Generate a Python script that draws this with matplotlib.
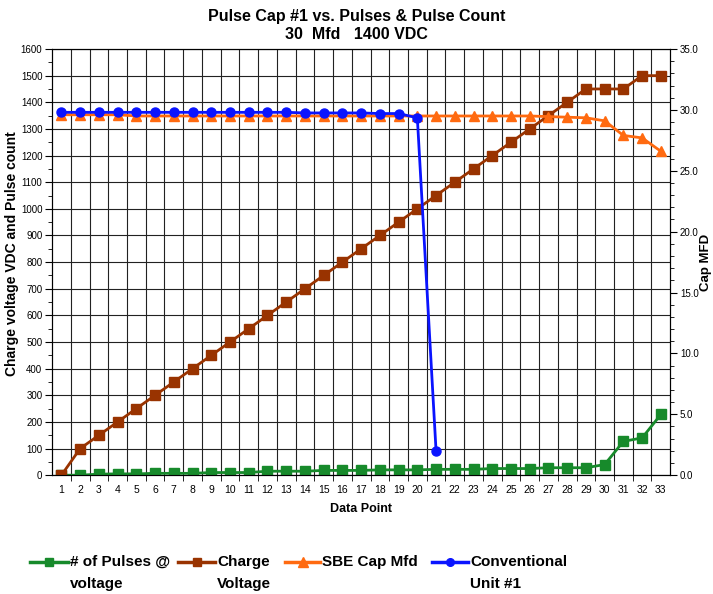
import matplotlib.pyplot as plt
from matplotlib.ticker import MultipleLocator, FormatStrFormatter
from matplotlib.lines import Line2D

plt.rcParams['font.family'] = ['Liberation Sans', 'DejaVu Sans']

points = list(range(1, 34))

# pulse count at each charge step (left axis)
pulses = [0, 0, 4, 5, 5, 7, 7, 7, 10, 10, 10, 15, 15, 15, 18, 18, 18, 20, 20, 20,
          22, 22, 22, 25, 25, 25, 28, 28, 28, 40, 127, 140, 228]
# charge voltage VDC (left axis)
charge_v = [0, 100, 150, 200, 250, 300, 350, 400, 450, 500, 550, 600, 650, 700, 750,
            800, 850, 900, 950, 1000, 1050, 1100, 1150, 1200, 1250, 1300, 1350, 1400,
            1450, 1450, 1450, 1500, 1500]
# capacitance in Mfd (right axis)
sbe_cap = [29.6, 29.6, 29.6, 29.6, 29.5, 29.5, 29.5, 29.5, 29.5, 29.5, 29.5, 29.5,
           29.5, 29.5, 29.5, 29.5, 29.5, 29.5, 29.5, 29.5, 29.5, 29.5, 29.5, 29.5,
           29.5, 29.5, 29.45, 29.4, 29.35, 29.1, 27.9, 27.7, 26.6]
conv_points = list(range(1, 22))
conv_cap = [29.8, 29.8, 29.8, 29.8, 29.8, 29.8, 29.8, 29.8, 29.8, 29.8, 29.8, 29.8,
            29.8, 29.75, 29.75, 29.75, 29.75, 29.7, 29.7, 29.35, 2.0]

GREEN = '#178a2b'
BROWN = '#993300'
ORANGE = '#ff6a10'
BLUE = '#0a14ff'

W, H = 713, 594
fig = plt.figure(figsize=(W / 100, H / 100), dpi=100)
ax = fig.add_axes([0.073, 0.2, 0.867, 0.7175])
ax2 = ax.twinx()

ax.plot(points, pulses, color=GREEN, lw=2, marker='s', ms=6.5, zorder=3)
ax.plot(points, charge_v, color=BROWN, lw=2, marker='s', ms=6.5, zorder=3)
ax2.plot(points, sbe_cap, color=ORANGE, lw=2, marker='^', ms=7, zorder=3)
ax2.plot(conv_points, conv_cap, color=BLUE, lw=2, marker='o', ms=6.5, zorder=4)

ax.set_xlim(0.5, 33.5)
ax.set_ylim(0, 1600)
ax2.set_ylim(0, 35)

ax.set_xticks(points)
ax.set_xticks([p + 0.5 for p in points[:-1]], minor=True)
ax.tick_params(axis='x', which='major', length=0, labelsize=7.5, pad=7)
ax.tick_params(axis='x', which='minor', length=4, direction='out')
ax.yaxis.set_major_locator(MultipleLocator(100))
ax.yaxis.set_minor_locator(MultipleLocator(50))
ax.tick_params(axis='y', which='major', length=5, labelsize=7, pad=2)
ax.tick_params(axis='y', which='minor', length=3)

ax2.yaxis.set_major_locator(MultipleLocator(5))
ax2.yaxis.set_minor_locator(MultipleLocator(1))
ax2.yaxis.set_major_formatter(FormatStrFormatter('%.1f'))
ax2.tick_params(axis='y', which='major', length=5, labelsize=7, pad=2)
ax2.tick_params(axis='y', which='minor', length=3)

ax.grid(True, which='major', axis='y', color='#222222', lw=0.8)
ax.grid(True, which='minor', axis='x', color='#222222', lw=0.8)
ax.set_axisbelow(True)

for a in (ax, ax2):
    for s in a.spines.values():
        s.set_color('black')
        s.set_linewidth(0.8)

ax.set_xlabel('Data Point', fontsize=9, fontweight='bold', labelpad=6)
ax.set_ylabel('Charge voltage VDC and Pulse count', fontsize=10, fontweight='bold')
ax.yaxis.set_label_coords(-0.054, 0.52)
ax2.set_ylabel('Cap MFD', fontsize=9.5, fontweight='bold')
ax2.yaxis.set_label_coords(1.048, 0.5)

fig.text(0.5, 0.972, 'Pulse Cap #1 vs. Pulses & Pulse Count', ha='center', va='center',
         fontsize=11.5, fontweight='bold')
fig.text(0.5, 0.942, '30  Mfd   1400 VDC', ha='center', va='center',
         fontsize=11.5, fontweight='bold')

# legend row under the plot, handles level with the first text line
legend_items = [
    (GREEN, 's', 6, '# of Pulses @\nvoltage', 30, 68),
    (BROWN, 's', 6, 'Charge\nVoltage', 178, 215),
    (ORANGE, '^', 7, 'SBE Cap Mfd', 285, 320),
    (BLUE, 'o', 5.5, 'Conventional\nUnit #1', 432, 468),
]
y_row = 1 - 562 / H
for color, mk, size, label, x0, x1 in legend_items:
    fig.add_artist(Line2D([x0 / W, x1 / W], [y_row, y_row], color=color, lw=2.5,
                          transform=fig.transFigure))
    fig.add_artist(Line2D([(x0 + x1) / 2 / W], [y_row], color=color, marker=mk, ms=size,
                          transform=fig.transFigure))
    fig.text((x1 + 2) / W, 1 - 555 / H, label, ha='left', va='top', fontsize=11,
             fontweight='bold', linespacing=1.75)

fig.savefig('out.png', dpi=100)
